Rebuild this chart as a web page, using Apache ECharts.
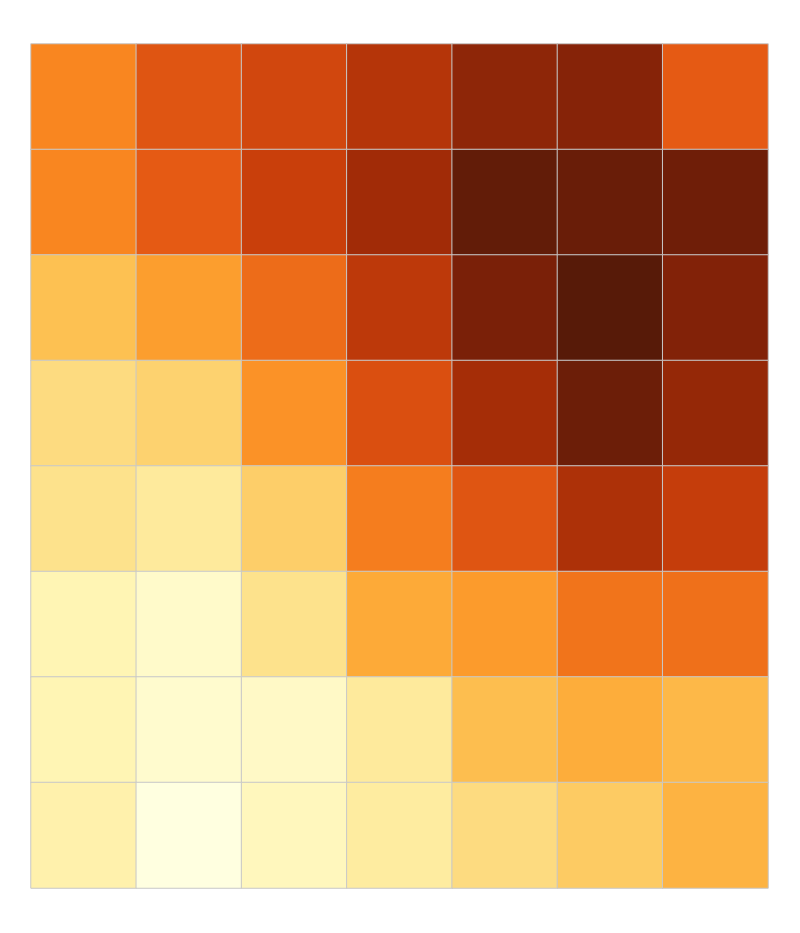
<!DOCTYPE html>
<html>
<head>
<meta charset="utf-8">
<script src="https://cdn.jsdelivr.net/npm/echarts@6/dist/echarts.min.js"></script>
<style>
  html, body { margin: 0; padding: 0; background: #fff; }
  #main { width: 800px; height: 933px; }
</style>
</head>
<body>
<div id="main"></div>
<script>
const columns = ["c0", "c1", "c2", "c3", "c4", "c5", "c6"];
const rows = ["r0", "r1", "r2", "r3", "r4", "r5", "r6", "r7"];

// one array per row, top to bottom
const row0 = [0.50, 0.62, 0.67, 0.75, 0.85, 0.87, 0.60];
const row1 = [0.50, 0.60, 0.70, 0.80, 0.97, 0.95, 0.93];
const row2 = [0.30, 0.42, 0.56, 0.73, 0.90, 1.00, 0.88];
const row3 = [0.22, 0.25, 0.46, 0.64, 0.79, 0.94, 0.83];
const row4 = [0.20, 0.16, 0.26, 0.52, 0.62, 0.77, 0.71];
const row5 = [0.10, 0.05, 0.20, 0.38, 0.43, 0.54, 0.55];
const row6 = [0.10, 0.04, 0.06, 0.16, 0.31, 0.37, 0.33];
const row7 = [0.12, 0.00, 0.08, 0.15, 0.22, 0.27, 0.35];

const grid = [row0, row1, row2, row3, row4, row5, row6, row7];
const cells = [];
grid.forEach((vals, r) => {
  vals.forEach((v, c) => cells.push([c, r, v]));
});

const chart = echarts.init(document.getElementById("main"));
chart.setOption({
  animation: false,
  grid: { left: 31, right: 32, top: 44, bottom: 45 },
  xAxis: {
    type: "category",
    data: columns,
    show: false,
  },
  yAxis: {
    type: "category",
    data: rows,
    inverse: true,
    show: false,
  },
  visualMap: {
    show: false,
    min: 0,
    max: 1,
    inRange: {
      color: [
        "#ffffe0", "#fff5b4", "#fde28c", "#fdc152", "#fda431", "#f98620",
        "#e55a14", "#c93f0b", "#a12b07", "#7a2008", "#571a08",
      ],
    },
  },
  series: [
    {
      type: "heatmap",
      data: cells,
      itemStyle: { borderColor: "#c8c8c8", borderWidth: 1 },
      emphasis: { disabled: true },
    },
  ],
});
</script>
</body>
</html>
